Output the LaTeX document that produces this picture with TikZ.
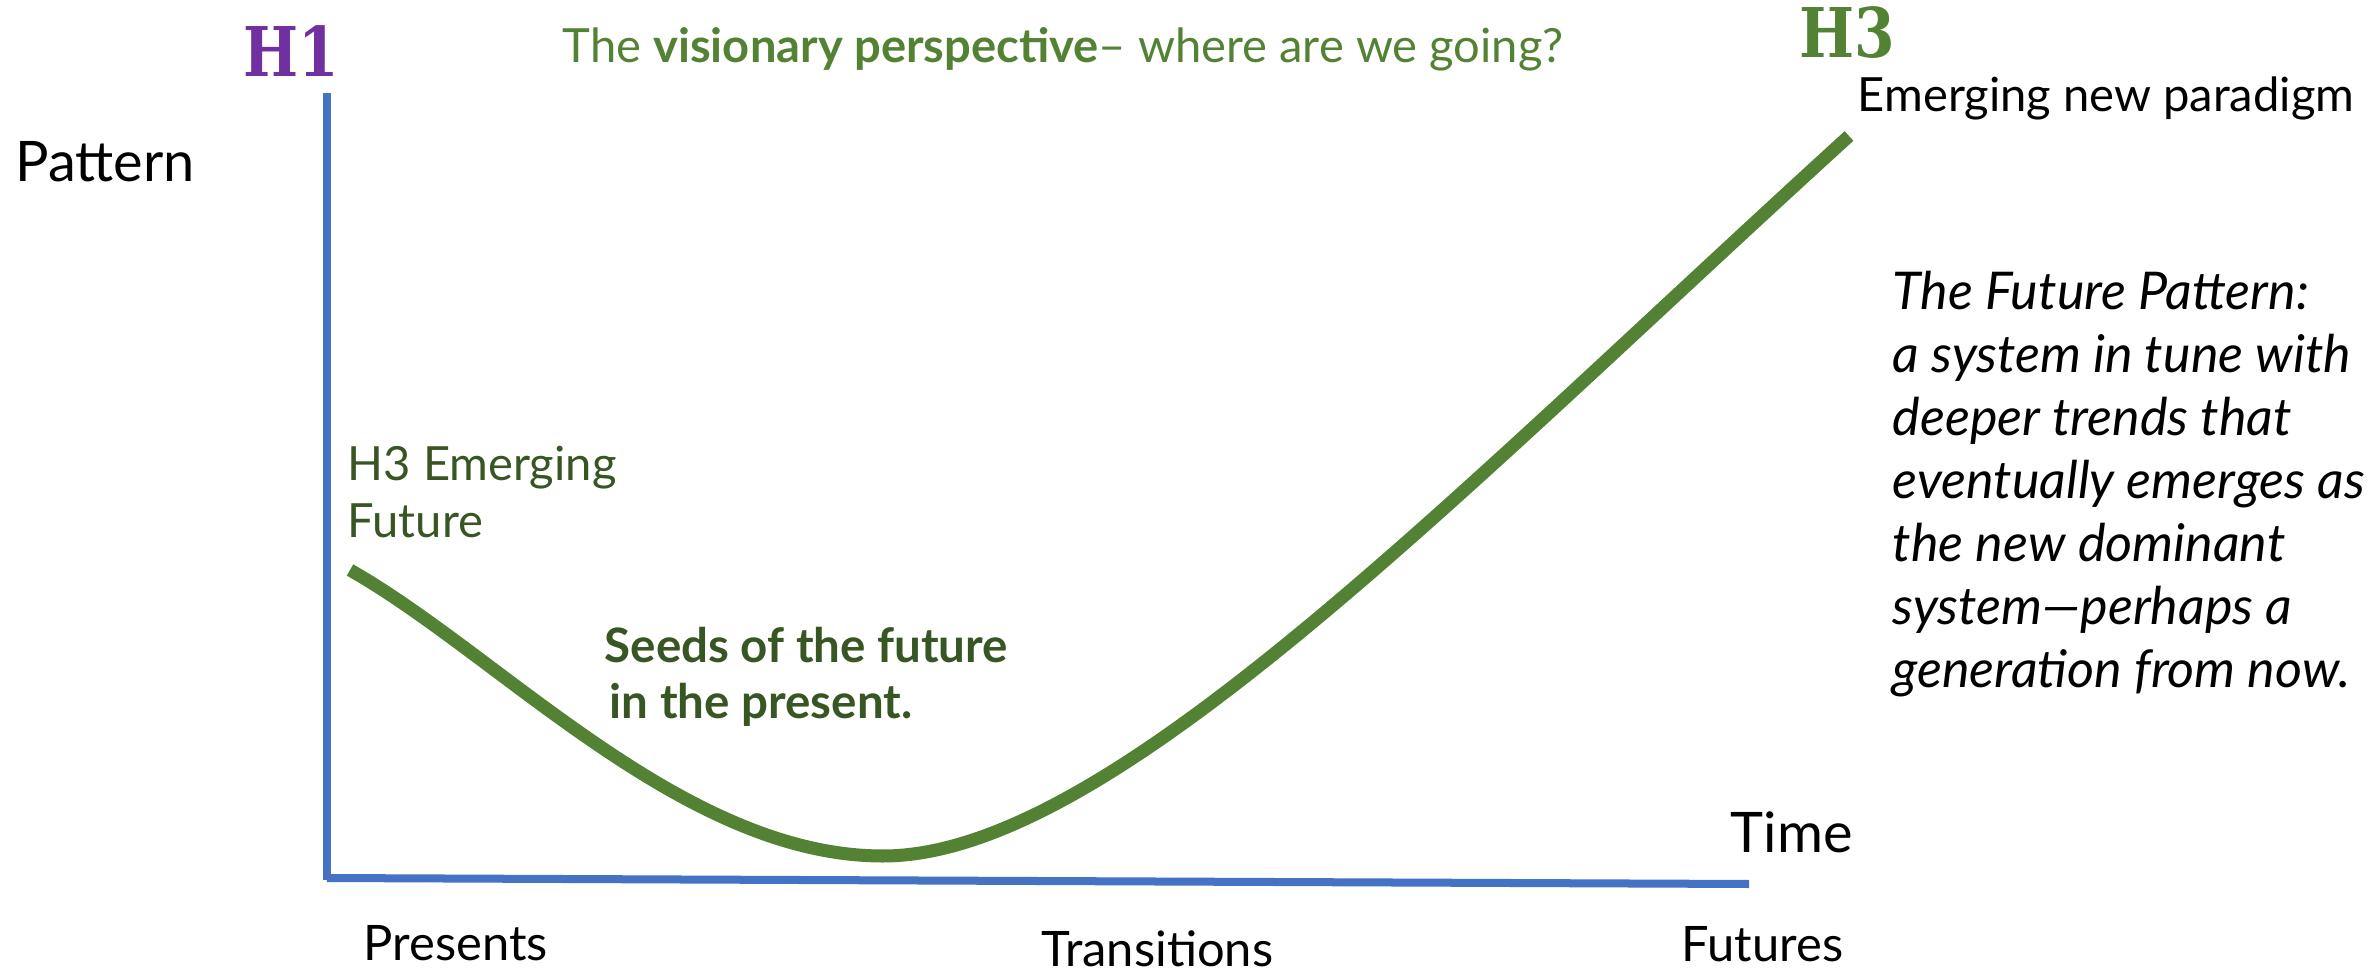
\documentclass[tikz,border=0pt]{standalone}
\usepackage{fontspec}
\setmainfont{Lato}
\newfontfamily\slabfont{DejaVu Serif}
\definecolor{axisblue}{HTML}{4472C4}
\definecolor{hpurple}{HTML}{7030A0}
\definecolor{hgreen}{HTML}{548235}
\definecolor{darkgreen}{HTML}{375623}
\begin{document}
\begin{tikzpicture}[x=0.01cm, y=-0.01cm,
        every node/.style={inner sep=0pt, anchor=base west},
        axisline/.style={draw=axisblue, line width=0.08cm},
        horizon/.style={font=\slabfont\bfseries\fontsize{19.5}{20}\selectfont, xscale=0.85},
        bigtext/.style={font=\fontsize{15.9}{18}\selectfont},
        ticktext/.style={font=\fontsize{13.9}{16}\selectfont}]
        \useasboundingbox (0,0) rectangle (2369,973);

        % axes
        \coordinate (top) at (327,93);
        \coordinate (origin) at (327,880);
        \coordinate (right) at (1749,884);
        \draw[axisline] (top) -- (origin);
        \draw[axisline] (origin |- 0,878) -- (right);

        % the curve
        \coordinate (start) at (350,570);
        \coordinate (low) at (883,856);
        \coordinate (finish) at (1849,136);
        \draw[hgreen, line width=0.13cm] (start) .. controls (500,655) and (683,856) .. (low)
            .. controls (1108,856) and (1449,500) .. (finish);

        % labels (multi-line nodes sit on their last baseline)
        \node[horizon, text=hpurple] (h1) at (243,77) {H1};
        \node[horizon, text=hgreen] (h3) at (1799,58) {H3};
        \node[font=\fontsize{13.4}{16}\selectfont, text=hgreen] (title) at (562,63)
            {The \textbf{visionary perspective}– where are we going?};
        \node[font=\fontsize{13.4}{16}\selectfont] (paradigm) at (1857,112) {Emerging new paradigm};
        \node[bigtext] (pattern) at (15,182) {Pattern};
        \node[bigtext] (time) at (1730,852) {Time};
        \node[font=\fontsize{13.4}{16.2}\selectfont, text=darkgreen, align=left] (emerging) at (347,537)
            {H3 Emerging\\Future};
        \node[font=\fontsize{13.5}{15.9}\selectfont\bfseries, text=darkgreen, align=left] (seeds) at (604,718)
            {Seeds of the future\\\hspace{0.05cm}in the present.};
        \node[font=\fontsize{14.8}{17.9}\selectfont\itshape, align=left] (futurepattern) at (1892,687)
            {The Future Pattern:\\a system in tune with\\deeper trends that\\eventually emerges as\\the new dominant\\system—perhaps a\\generation from now.};
        \node[ticktext] (presents) at (363,960) {Presents};
        \node[ticktext] (transitions) at (1041,966) {Transitions};
        \node[ticktext] (futures) at (1681,961) {Futures};
    \end{tikzpicture}
\end{document}
